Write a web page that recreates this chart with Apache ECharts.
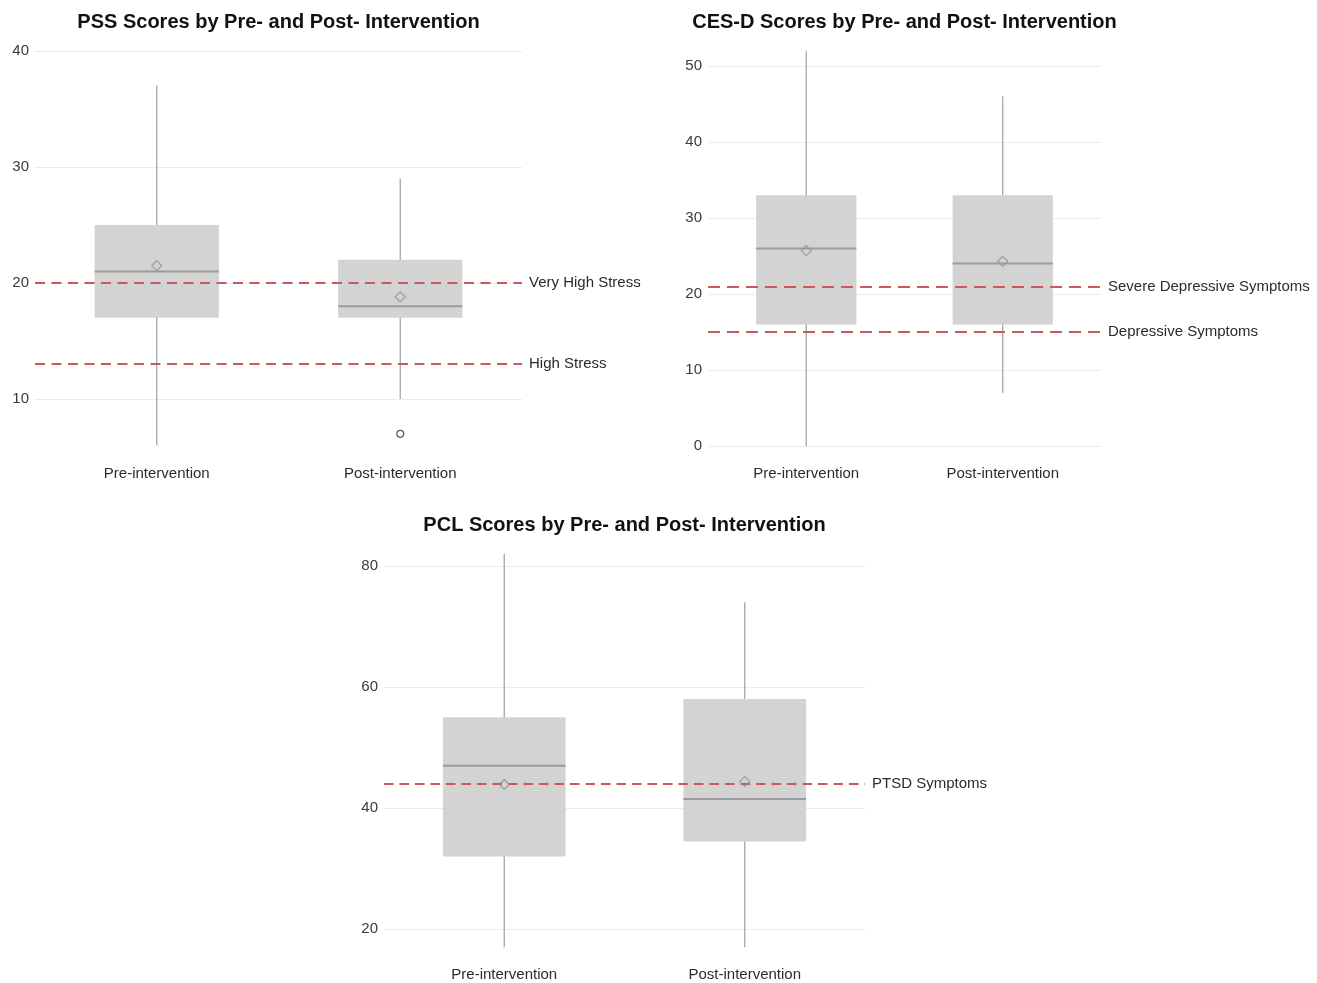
<!DOCTYPE html>
<html>
<head>
<meta charset="utf-8">
<title>PSS, CES-D and PCL Scores</title>
<script src="https://cdn.jsdelivr.net/npm/echarts@6/dist/echarts.min.js"></script>
<style>
  html, body { margin: 0; padding: 0; background: #ffffff; }
  #chart { width: 1317px; height: 983px; }
</style>
</head>
<body>
<div id="chart"></div>
<script>
// Groups shown on every panel
const categories = ['Pre-intervention', 'Post-intervention'];

// Box summaries: [min, Q1, median, Q3, max] per group
const pssBoxes = [[6, 17, 21, 25, 37], [10, 17, 18, 22, 29]];
const pssMeans = [21.5, 18.8];
const pssOutliers = [[1, 7]];
const pssCutoffs = [20, 13];
const pssCutoffNames = ['Very High Stress', 'High Stress'];
const pssTicks = [10, 20, 30, 40];

const cesdBoxes = [[0, 16, 26, 33, 52], [7, 16, 24, 33, 46]];
const cesdMeans = [25.7, 24.3];
const cesdOutliers = [];
const cesdCutoffs = [21, 15];
const cesdCutoffNames = ['Severe Depressive Symptoms', 'Depressive Symptoms'];
const cesdTicks = [0, 10, 20, 30, 40, 50];

const pclBoxes = [[17, 32, 47, 55, 82], [17, 34.5, 41.5, 58, 74]];
const pclMeans = [43.9, 44.4];
const pclOutliers = [];
const pclCutoffs = [44];
const pclCutoffNames = ['PTSD Symptoms'];
const pclTicks = [20, 40, 60, 80];

const titles = [
  'PSS Scores by Pre- and Post- Intervention',
  'CES-D Scores by Pre- and Post- Intervention',
  'PCL Scores by Pre- and Post- Intervention'
];

const FONT = 'Liberation Sans, Arial, Helvetica, sans-serif';

const panels = [
  { boxes: pssBoxes, means: pssMeans, outliers: pssOutliers, cut: pssCutoffs, cutNames: pssCutoffNames, ticks: pssTicks,
    grid: { left: 35, top: 31, width: 487, height: 434 }, yMin: 4.31, yMax: 41.72, dash: [10, 6.5] },
  { boxes: cesdBoxes, means: cesdMeans, outliers: cesdOutliers, cut: cesdCutoffs, cutNames: cesdCutoffNames, ticks: cesdTicks,
    grid: { left: 708, top: 31, width: 393, height: 434 }, yMin: -2.5, yMax: 54.6, dash: [12, 7] },
  { boxes: pclBoxes, means: pclMeans, outliers: pclOutliers, cut: pclCutoffs, cutNames: pclCutoffNames, ticks: pclTicks,
    grid: { left: 384, top: 534, width: 481, height: 434 }, yMin: 13.92, yMax: 85.26, dash: [9.5, 6] }
];

// Whisker, filled box and median bar for one group
function renderBox(params, api) {
  const idx = api.value(0);
  const lo = api.coord([idx, api.value(1)]);
  const q1 = api.coord([idx, api.value(2)]);
  const med = api.coord([idx, api.value(3)]);
  const q3 = api.coord([idx, api.value(4)]);
  const hi = api.coord([idx, api.value(5)]);
  const band = api.size([1, 0])[0];
  const w = band * 0.51;
  const cx = lo[0];
  return {
    type: 'group',
    children: [
      { type: 'line', shape: { x1: cx, y1: hi[1], x2: cx, y2: lo[1] },
        style: { stroke: '#a6a6a6', lineWidth: 1.3 } },
      { type: 'rect', shape: { x: cx - w / 2, y: q3[1], width: w, height: q1[1] - q3[1] },
        style: { fill: '#d3d3d3' } },
      { type: 'line', shape: { x1: cx - w / 2, y1: med[1], x2: cx + w / 2, y2: med[1] },
        style: { stroke: '#9c9c9c', lineWidth: 2 } }
    ]
  };
}

const grids = [], xAxes = [], yAxes = [], series = [], graphics = [];

panels.forEach((p, i) => {
  grids.push(p.grid);
  xAxes.push({
    type: 'category', gridIndex: i, data: categories, boundaryGap: true,
    axisLine: { show: false }, axisTick: { show: false }, splitLine: { show: false },
    axisLabel: { margin: 1, color: '#2b2b2b', fontSize: 15, fontFamily: FONT, lineHeight: 16 }
  });
  yAxes.push({
    type: 'value', gridIndex: i, min: p.yMin, max: p.yMax,
    axisLine: { show: false },
    axisTick: { show: false, customValues: p.ticks },
    axisLabel: { customValues: p.ticks, margin: 6, color: '#3a3a3a', fontSize: 15, fontFamily: FONT },
    splitLine: { show: true, lineStyle: { color: '#ebebeb', width: 1 } }
  });

  series.push({
    type: 'custom', xAxisIndex: i, yAxisIndex: i, z: 2,
    renderItem: renderBox,
    encode: { x: 0, y: [1, 2, 3, 4, 5] },
    data: p.boxes.map((b, k) => [k].concat(b)),
    silent: true, animation: false,
    markLine: {
      silent: true, symbol: 'none', animation: false, z: 5,
      lineStyle: { type: p.dash, color: '#c75a5c', width: 2 },
      label: { position: 'end', formatter: '{b}', distance: 7, color: '#2b2b2b', fontSize: 15, fontFamily: FONT },
      data: p.cut.map((v, k) => ({ yAxis: v, name: p.cutNames[k] }))
    }
  });

  series.push({
    type: 'scatter', xAxisIndex: i, yAxisIndex: i, z: 10,
    symbol: 'diamond', symbolSize: [10, 10],
    itemStyle: { color: 'rgba(0,0,0,0)', borderColor: '#8f8f8f', borderWidth: 1.2 },
    data: p.means.map((m, k) => [k, m]),
    silent: true, animation: false
  });

  if (p.outliers.length) {
    series.push({
      type: 'scatter', xAxisIndex: i, yAxisIndex: i, z: 10,
      symbol: 'circle', symbolSize: 7,
      itemStyle: { color: 'rgba(0,0,0,0)', borderColor: '#333333', borderWidth: 1.3 },
      data: p.outliers,
      silent: true, animation: false
    });
  }

  graphics.push({
    type: 'text',
    x: p.grid.left + p.grid.width / 2,
    y: i < 2 ? 22 : 525,
    style: {
      text: titles[i], textAlign: 'center', textVerticalAlign: 'middle',
      font: 'bold 20px ' + FONT, fill: '#111111'
    }
  });
});

const chart = echarts.init(document.getElementById('chart'), null, { renderer: 'canvas' });
chart.setOption({
  backgroundColor: '#ffffff',
  animation: false,
  grid: grids,
  xAxis: xAxes,
  yAxis: yAxes,
  series: series,
  graphic: graphics
});
</script>
</body>
</html>
